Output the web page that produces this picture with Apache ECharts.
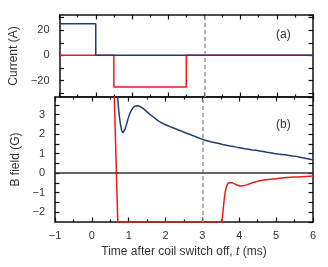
<!DOCTYPE html>
<html>
<head>
<meta charset="utf-8">
<script src="https://cdn.jsdelivr.net/npm/echarts@6/dist/echarts.min.js"></script>
<style>html,body{margin:0;padding:0;background:#fff}#c{width:328px;height:267px}</style>
</head>
<body>
<div id="c"></div>
<script>
// ---- data ----
const tRange = [-1, 6];
const currentRange = [-33, 32];
const fieldRange = [-2.5, 3.9];
const switchOffMarker = 3;
const currentBlue = [[-1,25],[0,25],[0,0],[6,0]];
const currentRed = [[-1,0],[0.5,0],[0.5,-25],[2.5,-25],[2.5,0],[6,0]];
const fieldBlue = [[0.68,4.3],[0.70,3.9],[0.72,3.4],[0.75,2.85],[0.78,2.45],[0.81,2.18],[0.84,2.07],[0.87,2.1],[0.90,2.25],[0.94,2.5],[0.98,2.78],[1.03,3.05],[1.08,3.25],[1.13,3.38],[1.19,3.44],[1.25,3.45],[1.31,3.41],[1.38,3.33],[1.46,3.2],[1.55,3.05],[1.65,2.9],[1.75,2.75],[1.85,2.62],[1.95,2.52],[2.05,2.44],[2.15,2.36],[2.25,2.29],[2.35,2.21],[2.45,2.14],[2.55,2.06],[2.65,1.99],[2.75,1.92],[2.85,1.84],[2.95,1.77],[3.05,1.70],[3.15,1.65],[3.25,1.6],[3.35,1.56],[3.45,1.52],[3.55,1.47],[3.65,1.43],[3.75,1.39],[3.85,1.36],[3.95,1.32],[4.05,1.29],[4.15,1.25],[4.25,1.22],[4.35,1.19],[4.45,1.17],[4.55,1.14],[4.65,1.11],[4.75,1.07],[4.85,1.05],[4.95,1.01],[5.05,0.98],[5.15,0.96],[5.25,0.94],[5.35,0.91],[5.45,0.88],[5.55,0.86],[5.65,0.82],[5.75,0.78],[5.85,0.74],[5.95,0.7],[6.0,0.68]];
const fieldRed = [[0.60,4.5],[0.703,-2.5],[3.53,-2.5],[3.56,-1.9],[3.59,-1.35],[3.62,-0.95],[3.66,-0.65],[3.70,-0.5],[3.75,-0.46],[3.8,-0.48],[3.87,-0.55],[3.95,-0.62],[4.03,-0.66],[4.1,-0.65],[4.2,-0.6],[4.3,-0.53],[4.4,-0.46],[4.5,-0.41],[4.6,-0.37],[4.7,-0.34],[4.8,-0.32],[4.9,-0.3],[5.0,-0.28],[5.1,-0.26],[5.2,-0.24],[5.3,-0.22],[5.4,-0.21],[5.5,-0.2],[5.6,-0.19],[5.7,-0.18],[5.8,-0.17],[5.9,-0.16],[6.0,-0.15]];
const currentLabelStep = 20;
const fieldLabelStep = 1;

// ---- chart ----
const FONT = 'Liberation Sans, Arial, sans-serif';
const BLUE = '#1d3f6f', RED = '#f01818';
const TXT = '#333';
const fmtNum = v => (v < 0 ? '\u2212' + Math.abs(v) : String(v));
const axisLine = {show:true, onZero:false, lineStyle:{color:'#111', width:1.5}};
const tick = {show:true, inside:true, length:4.5, lineStyle:{color:'#111', width:1.2}};
const minor = {show:true, splitNumber:2, length:2.5, lineStyle:{color:'#111', width:1.2}};
const lbl = {color:TXT, fontSize:11, fontFamily:FONT};

function xAx(grid, pos, showLabel, name) {
  return {type:'value', gridIndex:grid, position:pos, min:tRange[0], max:tRange[1], interval:1,
    axisLine, axisTick:tick, minorTick:minor, splitLine:{show:false},
    axisLabel: Object.assign({show:showLabel, margin:8, formatter:fmtNum}, lbl),
    name: name || '', nameLocation:'middle', nameGap:24,
    nameTextStyle:{color:TXT, fontSize:12, fontFamily:FONT,
      rich:{n:{fontSize:12, fontFamily:FONT, color:TXT}, i:{fontSize:12, fontFamily:FONT, fontStyle:'italic', color:TXT}}}};
}
function yAx(grid, pos, range, step, labelStep, showLabel, name) {
  return {type:'value', gridIndex:grid, position:pos, min:range[0], max:range[1],
    minInterval:step, maxInterval:step,
    axisLine, axisTick:tick, splitLine:{show:false},
    axisLabel: Object.assign({show:showLabel, margin:10, showMinLabel:false, showMaxLabel:false,
      formatter: v => {
        const r = Math.round(v / labelStep) * labelStep;
        return Math.abs(v - r) < 1e-6 ? fmtNum(Math.round(r)) : '';
      }}, lbl),
    name: name || '', nameLocation:'middle', nameGap:26,
    nameTextStyle:{color:TXT, fontSize:12, fontFamily:FONT}};
}
const lineBase = {type:'line', showSymbol:false, symbol:'none', clip:true, animation:false, silent:true};
const dashMark = {symbol:'none', silent:true, animation:false, label:{show:false},
  lineStyle:{color:'#999', type:[4,3], width:1.5}, data:[{xAxis:switchOffMarker}]};

const option = {
  animation:false,
  grid:[{left:55, right:15, top:15, height:82}, {left:55, right:15, top:97, height:125}],
  xAxis:[xAx(0,'bottom',false), xAx(0,'top',false),
         xAx(1,'bottom',true,'{n|Time after coil switch off, }{i|t}{n| (ms)}'), xAx(1,'top',false)],
  yAxis:[yAx(0,'left',currentRange,10,currentLabelStep,true,'Current (A)'),
         yAx(0,'right',currentRange,10,currentLabelStep,false),
         yAx(1,'left',fieldRange,0.5,fieldLabelStep,true,'B field (G)'),
         yAx(1,'right',fieldRange,0.5,fieldLabelStep,false)],
  series:[
    Object.assign({}, lineBase, {xAxisIndex:0, yAxisIndex:0, data:currentRed, lineStyle:{color:RED, width:1.5}, z:2,
      markLine:dashMark}),
    Object.assign({}, lineBase, {xAxisIndex:0, yAxisIndex:0, data:currentBlue, lineStyle:{color:BLUE, width:1.5}, z:3}),
    Object.assign({}, lineBase, {xAxisIndex:2, yAxisIndex:2, data:fieldBlue, lineStyle:{color:BLUE, width:1.5}, z:3,
      markLine:dashMark}),
    Object.assign({}, lineBase, {xAxisIndex:2, yAxisIndex:2, data:fieldRed, lineStyle:{color:RED, width:1.5}, z:4,
      markLine:{symbol:'none', silent:true, animation:false, label:{show:false},
        lineStyle:{color:'#333', type:'solid', width:1.5}, data:[{yAxis:0}]}})
  ],
  graphic:[
    {type:'text', left:276, top:29, style:{text:'(a)', font:'12px ' + FONT, fill:TXT}},
    {type:'text', left:276, top:119, style:{text:'(b)', font:'12px ' + FONT, fill:TXT}}
  ]
};
const chart = echarts.init(document.getElementById('c'), null, {renderer:'canvas'});
chart.setOption(option);
</script>
</body>
</html>
